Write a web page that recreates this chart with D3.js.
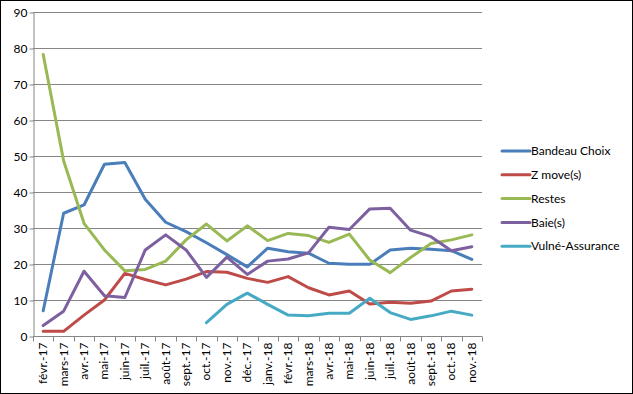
<!DOCTYPE html>
<html>
<head>
<meta charset="utf-8">
<script src="https://cdn.jsdelivr.net/npm/d3@7"></script>
<style>
  body { margin: 0; background: #fff; }
  text { font-family: Lato, "Liberation Sans", Arial, sans-serif; fill: #000; }
</style>
</head>
<body>
<svg id="chart"></svg>
<script>
const months = ['févr.-17','mars-17','avr.-17','mai-17','juin-17','juil.-17','août-17','sept.-17','oct.-17','nov.-17','déc.-17',
                'janv.-18','févr.-18','mars-18','avr.-18','mai-18','juin-18','juil.-18','août-18','sept.-18','oct.-18','nov.-18'];

const bandeau = [7.0, 34.1, 36.4, 47.7, 48.2, 38.0, 31.6, 29.0, 25.9, 22.6, 19.2, 24.4, 23.4, 23.0, 20.2, 19.9, 19.9, 23.9, 24.4, 24.1, 23.7, 21.3];
const zmove   = [1.3, 1.3, 5.8, 10.0, 17.4, 15.7, 14.2, 15.8, 17.9, 17.7, 16.0, 14.9, 16.5, 13.4, 11.4, 12.5, 8.9, 9.4, 9.1, 9.7, 12.5, 13.0];
const restes  = [78.2, 48.7, 31.3, 23.9, 18.1, 18.5, 20.8, 26.7, 31.1, 26.4, 30.6, 26.5, 28.5, 27.9, 26.0, 28.3, 21.1, 17.6, 21.8, 25.7, 26.7, 28.1];
const baies   = [2.9, 6.9, 18.0, 11.2, 10.7, 23.9, 28.1, 23.9, 16.3, 21.9, 17.1, 20.8, 21.4, 23.1, 30.2, 29.6, 35.3, 35.5, 29.4, 27.6, 23.7, 24.8];
const vulne   = [null, null, null, null, null, null, null, null, 3.7, 8.8, 11.9, 8.8, 5.8, 5.6, 6.3, 6.3, 10.5, 6.5, 4.6, 5.6, 6.9, 5.8];

const seriesNames = ['Bandeau Choix', 'Z move(s)', 'Restes', 'Baie(s)', 'Vulné-Assurance'];
const seriesValues = [bandeau, zmove, restes, baies, vulne];
const colors = ['#4a7ebb', '#be4b48', '#98b954', '#7d60a0', '#46aac5'];
const yTicks = [0, 10, 20, 30, 40, 50, 60, 70, 80, 90];

const width = 633, height = 394;
const margin = {top: 12, right: 151, bottom: 58, left: 33};

const svg = d3.select('#chart')
      .attr('width', width)
      .attr('height', height);

svg.append('rect')
      .attr('x', 0.5).attr('y', 0.5)
      .attr('width', width - 1).attr('height', height - 1)
      .attr('fill', '#fff')
      .attr('stroke', '#000');

const x = d3.scaleBand()
      .domain(months)
      .range([margin.left, width - margin.right]);

const y = d3.scaleLinear()
      .domain([0, 90])
      .range([height - margin.bottom, margin.top]);

// gridlines
svg.append('g')
      .selectAll('line')
      .data(yTicks.slice(1))
      .join('line')
      .attr('x1', margin.left).attr('x2', width - margin.right)
      .attr('y1', d => Math.round(y(d)) + 0.5)
      .attr('y2', d => Math.round(y(d)) + 0.5)
      .attr('stroke', '#868686');

// y axis
const yaxis = svg.append('g')
      .attr('transform', `translate(${margin.left + 0.5},0.5)`)
      .call(d3.axisLeft(y).tickValues(yTicks).tickSize(4).tickSizeOuter(0));
yaxis.select('.domain').attr('stroke', '#868686');
yaxis.selectAll('.tick line').attr('stroke', '#868686');
yaxis.selectAll('.tick text')
      .attr('x', -6)
      .style('font-size', '12px')
      .style('font-family', 'Lato, "Liberation Sans", Arial, sans-serif');

// x axis with ticks between categories
const xaxisY = Math.round(y(0)) + 0.5;
svg.append('line')
      .attr('x1', margin.left).attr('x2', width - margin.right)
      .attr('y1', xaxisY).attr('y2', xaxisY)
      .attr('stroke', '#868686');

svg.append('g')
      .selectAll('line')
      .data(months.concat(['end']))
      .join('line')
      .attr('x1', (d, i) => Math.round(margin.left + i * x.step()) + 0.5)
      .attr('x2', (d, i) => Math.round(margin.left + i * x.step()) + 0.5)
      .attr('y1', xaxisY).attr('y2', xaxisY + 5)
      .attr('stroke', '#868686');

svg.append('g')
      .selectAll('text')
      .data(months)
      .join('text')
      .attr('transform', d => `translate(${x(d) + x.bandwidth() / 2 + 4},${xaxisY + 6}) rotate(-90)`)
      .attr('text-anchor', 'end')
      .style('font-size', '12px')
      .text(d => d);

// lines
const line = d3.line()
      .defined(d => d != null)
      .x((d, i) => x(months[i]) + x.bandwidth() / 2)
      .y(d => y(d));

svg.append('g')
      .selectAll('path')
      .data(seriesValues)
      .join('path')
      .attr('d', line)
      .attr('fill', 'none')
      .attr('stroke', (d, i) => colors[i])
      .attr('stroke-width', 3)
      .attr('stroke-linejoin', 'round')
      .attr('stroke-linecap', 'round');

// legend
const legend = svg.append('g')
      .selectAll('g')
      .data(seriesNames)
      .join('g')
      .attr('transform', (d, i) => `translate(502,${151 + i * 23.8})`);

legend.append('line')
      .attr('x1', 0).attr('x2', 28)
      .attr('stroke', (d, i) => colors[i])
      .attr('stroke-width', 3)
      .attr('stroke-linecap', 'round');

legend.append('text')
      .attr('x', 29)
      .attr('dy', '0.35em')
      .style('font-size', '12px')
      .text(d => d);
</script>
</body>
</html>
